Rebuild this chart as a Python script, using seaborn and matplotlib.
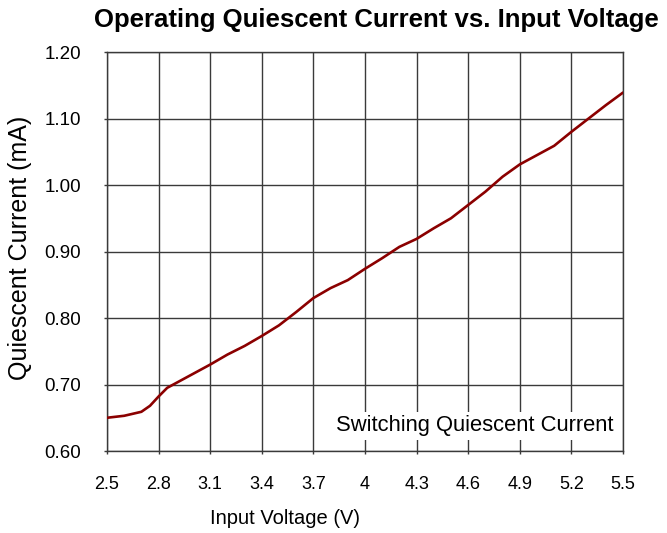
import matplotlib
matplotlib.use("Agg")
import matplotlib.pyplot as plt
import seaborn as sns
import pandas as pd

voltage = [2.5, 2.6, 2.65, 2.7, 2.75, 2.8, 2.85, 2.9, 3.0, 3.1, 3.2, 3.3, 3.4, 3.5,
           3.6, 3.7, 3.8, 3.9, 4.0, 4.1, 4.2, 4.3, 4.4, 4.5, 4.6, 4.7, 4.8, 4.9,
           5.0, 5.1, 5.2, 5.3, 5.4, 5.5]
current = [0.650, 0.653, 0.656, 0.659, 0.668, 0.682, 0.695, 0.702, 0.716, 0.730,
           0.745, 0.758, 0.773, 0.789, 0.809, 0.830, 0.845, 0.857, 0.874, 0.890,
           0.907, 0.919, 0.935, 0.950, 0.970, 0.990, 1.0125, 1.031, 1.045, 1.059,
           1.080, 1.100, 1.120, 1.139]
x_ticks = [2.5, 2.8, 3.1, 3.4, 3.7, 4.0, 4.3, 4.6, 4.9, 5.2, 5.5]
x_tick_labels = ["2.5", "2.8", "3.1", "3.4", "3.7", "4", "4.3", "4.6", "4.9", "5.2", "5.5"]
y_ticks = [0.60, 0.70, 0.80, 0.90, 1.00, 1.10, 1.20]
y_tick_labels = ["0.60", "0.70", "0.80", "0.90", "1.00", "1.10", "1.20"]

sns.set_style("white")
plt.rcParams["font.family"] = ["Liberation Sans", "DejaVu Sans"]
plt.rcParams["text.color"] = "black"

df = pd.DataFrame({"Input Voltage (V)": voltage, "Quiescent Current (mA)": current})

fig = plt.figure(figsize=(6.67, 5.33), dpi=100)
ax = fig.add_axes([0.1604, 0.1538, 0.934 - 0.1604, 0.9024 - 0.1538])

for yv in y_ticks:
    ax.axhline(yv, color="#3a3a3a", lw=1.0, zorder=1)
for xv in x_ticks:
    ax.axvline(xv, color="#3a3a3a", lw=1.0, zorder=1)

sns.lineplot(data=df, x="Input Voltage (V)", y="Quiescent Current (mA)",
             color="#8B0000", lw=1.9, ax=ax, zorder=3)

ax.set_xlim(2.5, 5.5)
ax.set_ylim(0.60, 1.20)
ax.set_xticks(x_ticks)
ax.set_xticklabels(x_tick_labels, fontsize=13)
ax.set_yticks(y_ticks)
ax.set_yticklabels(y_tick_labels, fontsize=13.5)
ax.tick_params(axis="both", direction="out", length=2.5, width=1.0, color="#3a3a3a",
               labelcolor="black")
ax.tick_params(axis="x", bottom=True, pad=15.5)
ax.tick_params(axis="y", left=True, pad=16)
for s in ax.spines.values():
    s.set_color("#3a3a3a")
    s.set_linewidth(1.0)

ax.set_xlabel("")
ax.set_ylabel("")
fig.text((213 + 358) / 2 / 667, 1 - 518 / 533, "Input Voltage (V)",
         ha="center", va="center", fontsize=14.5)
fig.text(20 / 667, 1 - 248 / 533, "Quiescent Current (mA)", rotation=90,
         ha="center", va="center", fontsize=18)
fig.text(376.5 / 667, 1 - 20 / 533, "Operating Quiescent Current vs. Input Voltage",
         ha="center", va="center", fontsize=18.5, fontweight="bold")
ax.text(0.981, 0.063, "Switching Quiescent Current", transform=ax.transAxes,
        ha="right", va="center", fontsize=15.8, zorder=4,
        bbox=dict(boxstyle="square,pad=0.15", fc="white", ec="none"))

fig.savefig("out.png", dpi=100)
